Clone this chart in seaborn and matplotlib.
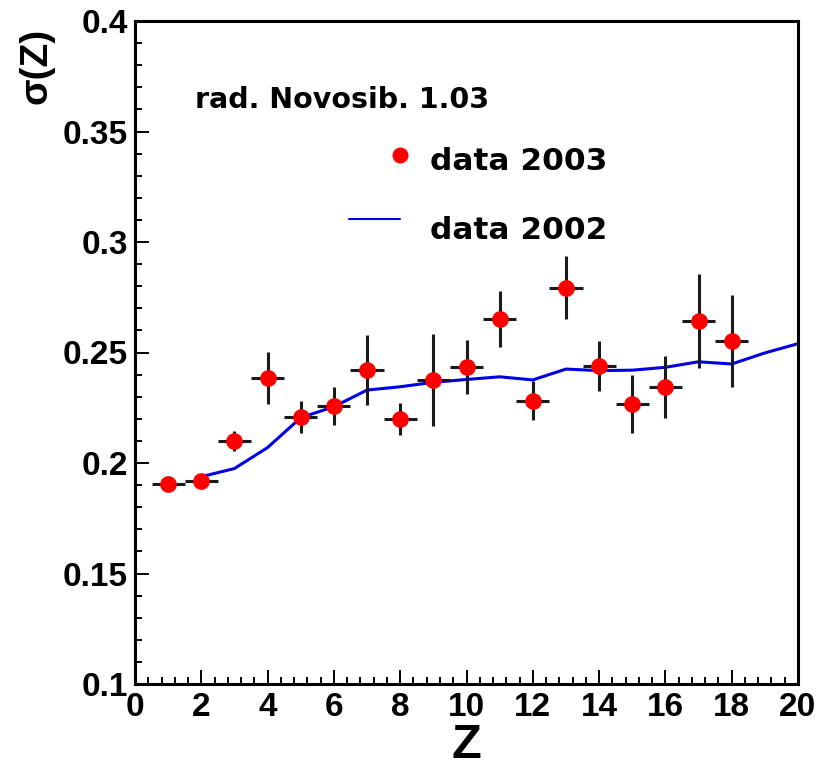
import numpy as np
import pandas as pd
import matplotlib
matplotlib.use("Agg")
import matplotlib.pyplot as plt
from matplotlib.ticker import MultipleLocator
import seaborn as sns

# ---- data ----
z_2003 = [1, 2, 3, 4, 5, 6, 7, 8, 9, 10, 11, 12, 13, 14, 15, 16, 17, 18]
sigma_2003 = [0.1904, 0.192, 0.2101, 0.2383, 0.2207, 0.2258, 0.2421, 0.2200, 0.2376,
              0.2436, 0.2650, 0.2282, 0.2793, 0.2439, 0.2267, 0.2345, 0.2643, 0.2553]
err_2003 = [0.0015, 0.0018, 0.0045, 0.0118, 0.0072, 0.0085, 0.0160, 0.0072, 0.0208,
            0.0122, 0.0127, 0.0087, 0.0143, 0.0112, 0.0129, 0.0140, 0.0213, 0.0209]
zerr_2003 = 0.5

z_2002 = [2, 3, 4, 5, 6, 7, 8, 9, 10, 11, 12, 13, 14, 15, 16, 17, 18, 19, 20]
sigma_2002 = [0.1938, 0.1975, 0.2070, 0.2205, 0.2255, 0.2330, 0.2345, 0.2365, 0.2378,
              0.2390, 0.2376, 0.2425, 0.2418, 0.2420, 0.2433, 0.2458, 0.2448, 0.2498, 0.2540]

x_ticks = [0, 2, 4, 6, 8, 10, 12, 14, 16, 18, 20]
y_ticks = [0.1, 0.15, 0.2, 0.25, 0.3, 0.35, 0.4]
y_ticklabels = ["0.1", "0.15", "0.2", "0.25", "0.3", "0.35", "0.4"]

df03 = pd.DataFrame({"Z": z_2003, "sigma": sigma_2003, "err": err_2003})
df02 = pd.DataFrame({"Z": z_2002, "sigma": sigma_2002})

# ---- style ----
sns.set_style("ticks")
plt.rcParams["font.family"] = ["Liberation Sans", "DejaVu Sans"]
plt.rcParams["font.weight"] = "bold"
plt.rcParams["text.color"] = "black"
plt.rcParams["axes.labelcolor"] = "black"
plt.rcParams["xtick.color"] = "black"
plt.rcParams["ytick.color"] = "black"

W, H = 822, 772
fig = plt.figure(figsize=(W / 100, H / 100), dpi=100)
ax = fig.add_axes([135 / W, 1 - 684 / H, (798 - 135) / W, (684 - 21) / H])

sns.lineplot(data=df02, x="Z", y="sigma", ax=ax, color="#0000e6", lw=2.2,
             zorder=2, legend=False)
ax.errorbar(df03["Z"], df03["sigma"], yerr=df03["err"], xerr=zerr_2003,
            fmt="none", ecolor="#1a1a1a", elinewidth=2.2, capsize=0, zorder=3)
sns.scatterplot(data=df03, x="Z", y="sigma", ax=ax, color="#ff0000", s=145,
                edgecolor="#ff0000", linewidth=0, zorder=4, legend=False)

ax.set_xlim(0, 20)
ax.set_ylim(0.1, 0.4)
ax.set_xticks(x_ticks)
ax.set_xticklabels([str(t) for t in x_ticks])
ax.set_yticks(y_ticks)
ax.set_yticklabels(y_ticklabels)
ax.xaxis.set_minor_locator(MultipleLocator(0.4))
ax.yaxis.set_minor_locator(MultipleLocator(0.01))
ax.tick_params(which="both", direction="in", top=False, right=False,
               bottom=True, left=True, width=1.4, color="black")
ax.tick_params(which="major", length=10, labelsize=24)
ax.tick_params(axis="x", which="major", pad=6)
ax.tick_params(axis="y", which="major", pad=5)
ax.tick_params(which="minor", length=5)
for lab in ax.get_xticklabels() + ax.get_yticklabels():
    lab.set_fontweight("bold")
for sp in ax.spines.values():
    sp.set_linewidth(2.2)
    sp.set_color("black")
    sp.set_visible(True)

ax.set_xlabel("Z", fontsize=35, fontweight="bold", labelpad=0)
ax.set_ylabel("")
fig.text(37 / W, 1 - 66 / H, "σ(Z)", rotation=90, fontsize=28, fontweight="bold",
         ha="center", va="center")

# ---- legend-like annotation (pixel coords measured from the top) ----
def px(x, y):
    return (x, H - y)

leg_font = ["DejaVu Sans"]
ax.text(*px(195, 108), "rad. Novosib. 1.03", transform=None, fontsize=20.5,
        fontweight="bold", ha="left", va="baseline", family=leg_font)
ax.plot(*px(400, 155), marker="o", ms=10.5, color="#ff0000", transform=None,
        clip_on=False)
ax.text(*px(430, 170.5), "data 2003", transform=None, fontsize=22.5, fontweight="bold",
        ha="left", va="baseline", family=leg_font)
ax.plot([349, 400], [H - 219, H - 219], color="#0000e6", lw=1.5, transform=None,
        clip_on=False)
ax.text(*px(430, 239), "data 2002", transform=None, fontsize=22.5, fontweight="bold",
        ha="left", va="baseline", family=leg_font)

fig.savefig("out.png", dpi=100)
